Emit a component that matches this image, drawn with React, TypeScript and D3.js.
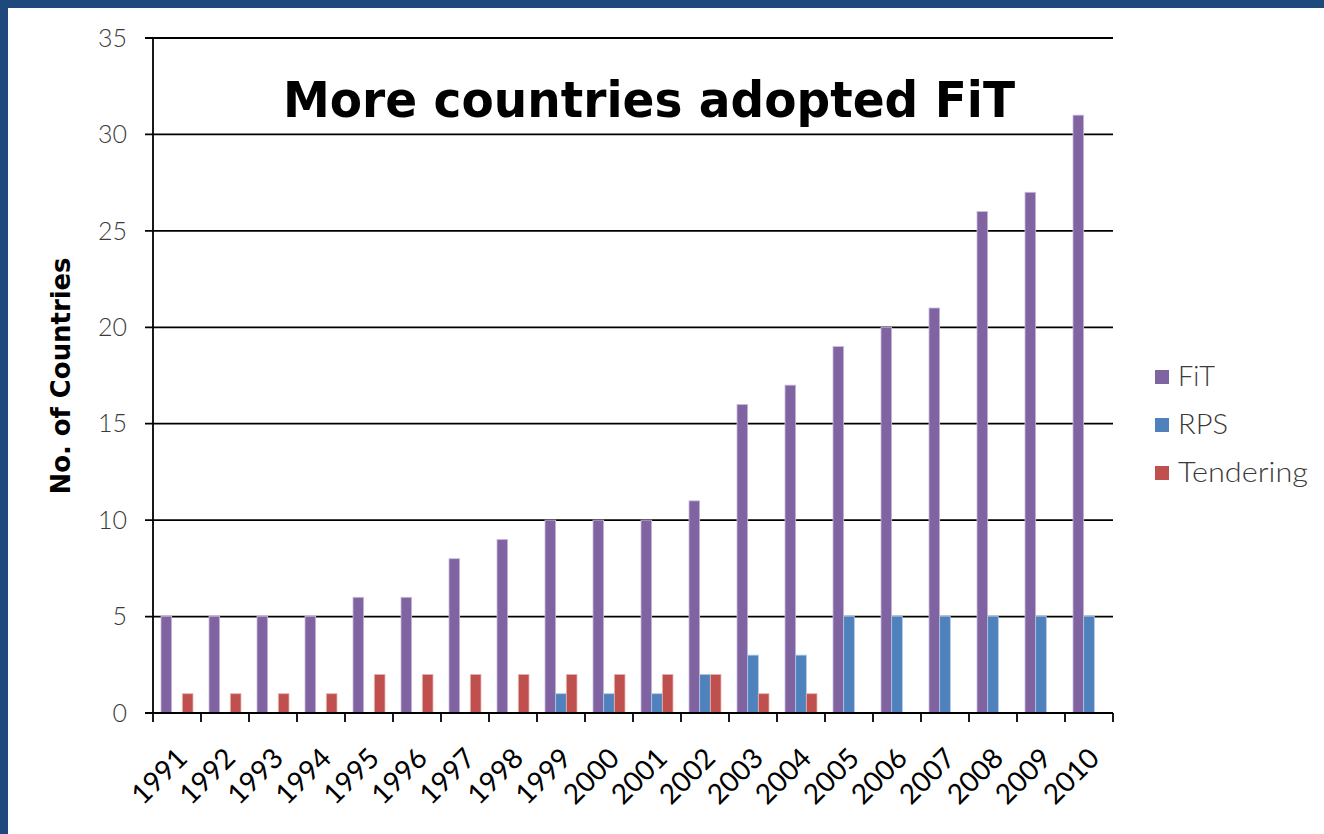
import React from "react";
import * as d3 from "d3";

const years = ["1991", "1992", "1993", "1994", "1995", "1996", "1997", "1998", "1999", "2000",
  "2001", "2002", "2003", "2004", "2005", "2006", "2007", "2008", "2009", "2010"];
const fitValues = [5, 5, 5, 5, 6, 6, 8, 9, 10, 10, 10, 11, 16, 17, 19, 20, 21, 26, 27, 31];
const rpsValues = [0, 0, 0, 0, 0, 0, 0, 0, 1, 1, 1, 2, 3, 3, 5, 5, 5, 5, 5, 5];
const tenderValues = [1, 1, 1, 1, 2, 2, 2, 2, 2, 2, 2, 2, 1, 1, 0, 0, 0, 0, 0, 0];
const seriesNames = ["FiT", "RPS", "Tendering"];
const yTicks = [0, 5, 10, 15, 20, 25, 30, 35];

const W = 1324;
const H = 834;
const colors = ["#8064a2", "#4f81bd", "#c0504d"];
const edges = ["#c9bddb", "#b0c6e4", "#e6b4b3"];
const legendWidths = [37, 50, 130];
const labelFont = "Lato, 'DejaVu Sans', sans-serif";

export default function App() {
  const left = 153, right = 1113, top = 38, bottom = 713;
  const x = d3.scaleBand().domain(years).range([left, right]).paddingInner(0).paddingOuter(0);
  const inner = d3.scaleBand().domain(seriesNames).range([0, x.bandwidth()]).paddingInner(0).paddingOuter(0.75);
  const y = d3.scaleLinear().domain([0, 35]).range([bottom, top]);
  const series = [fitValues, rpsValues, tenderValues];
  const boundaries = years.map((yr) => x(yr)!).concat([right]);

  return (
    <svg width={W} height={H} style={{ position: "absolute", left: 0, top: 0, background: "#fff" }}>
      <rect x={0} y={0} width={W} height={H} fill="#fff" />
      <rect x={0} y={0} width={W} height={8} fill="#1f497d" />
      <rect x={0} y={0} width={8} height={H} fill="#1f497d" />

      {/* gridlines */}
      {yTicks.filter((t) => t > 0).map((t) => (
        <line key={t} x1={145} x2={right} y1={y(t)} y2={y(t)} stroke="#000" strokeWidth={1.8} />
      ))}

      {/* bars */}
      {series.map((vals, si) =>
        vals.map((v, i) =>
          v > 0 ? (
            <rect key={`${si}-${i}`}
              x={x(years[i])! + inner(seriesNames[si])!}
              y={y(v)}
              width={inner.bandwidth()}
              height={y(0) - y(v)}
              fill={colors[si]}
              stroke={edges[si]}
              strokeWidth={0.8} />
          ) : null
        )
      )}

      {/* axes */}
      <line x1={left} x2={left} y1={top - 1} y2={bottom} stroke="#000" strokeWidth={1.8} />
      <line x1={145} x2={right} y1={bottom} y2={bottom} stroke="#000" strokeWidth={1.8} />
      {boundaries.map((b, i) => (
        <line key={i} x1={b} x2={b} y1={bottom} y2={bottom + 9} stroke="#000" strokeWidth={1.8} />
      ))}

      {yTicks.map((t) => (
        <text key={t} x={127} y={y(t)} dy="0.35em" textAnchor="end"
          fontFamily={labelFont} fontWeight={300} fontSize={25} fill="#3a3a3a">{t}</text>
      ))}

      {years.map((yr) => {
        const cx = x(yr)! + x.bandwidth() / 2 + 5;
        const cy = bottom + 40;
        return (
          <text key={yr} transform={`translate(${cx},${cy}) rotate(-45)`} textAnchor="end"
            dy="0.35em" fontFamily={labelFont} fontSize={28} fill="#000">{yr}</text>
        );
      })}

      <text transform="translate(70,376) rotate(-90)" textAnchor="middle"
        fontFamily="'DejaVu Sans', Verdana, sans-serif" fontWeight="bold" fontSize={26}
        textLength={237} lengthAdjust="spacingAndGlyphs" fill="#000">No. of Countries</text>

      <text x={283} y={117} fontFamily="'DejaVu Sans', Verdana, sans-serif" fontWeight="bold"
        fontSize={50} textLength={732} lengthAdjust="spacingAndGlyphs" fill="#000">
        More countries adopted FiT
      </text>

      {/* legend */}
      {seriesNames.map((n, i) => {
        const ly = 377 + i * 48;
        return (
          <g key={n}>
            <rect x={1155} y={ly - 7} width={14} height={14} fill={colors[i]} />
            <text x={1178} y={ly} dy="0.35em" fontFamily={labelFont} fontWeight={300} fontSize={27}
              textLength={legendWidths[i]} lengthAdjust="spacingAndGlyphs" fill="#3a3a3a">{n}</text>
          </g>
        );
      })}
    </svg>
  );
}
